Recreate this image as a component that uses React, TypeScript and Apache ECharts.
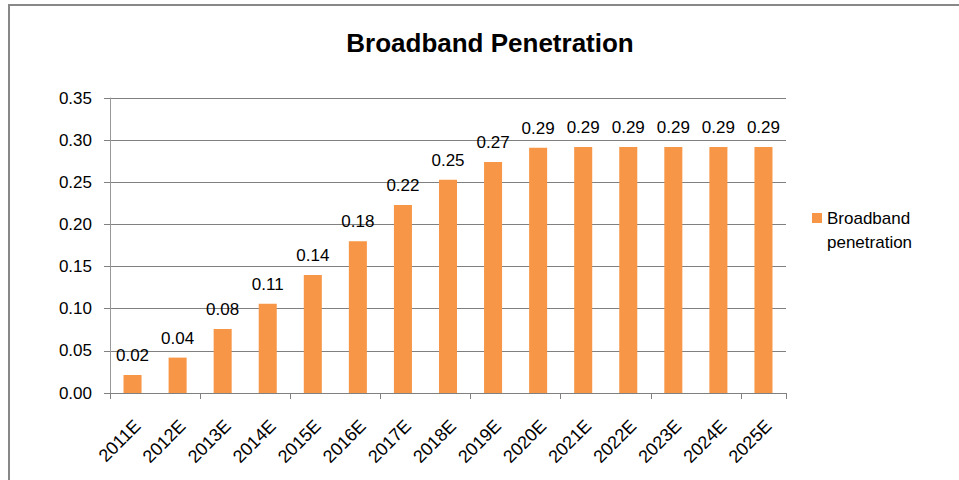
import React, { useEffect, useRef } from "react";
import * as echarts from "echarts";

const categories = ["2011E","2012E","2013E","2014E","2015E","2016E","2017E","2018E","2019E","2020E","2021E","2022E","2023E","2024E","2025E"];
const penetration = [0.0214, 0.042, 0.076, 0.106, 0.14, 0.18, 0.223, 0.253, 0.274, 0.291, 0.292, 0.292, 0.292, 0.292, 0.292];
const seriesName = "Broadband penetration";
const titleText = "Broadband Penetration";

const FONT = "'Liberation Sans', Arial, sans-serif";

export default function App() {
  const ref = useRef<HTMLDivElement>(null);
  useEffect(() => {
    if (!ref.current) return;
    const chart = echarts.init(ref.current, undefined, { renderer: "svg" });
    chart.setOption({
      animation: false,
      backgroundColor: "#ffffff",
      textStyle: { fontFamily: FONT },
      title: {
        text: titleText,
        left: 490,
        top: 30,
        padding: 0,
        textAlign: "center",
        textStyle: { fontFamily: FONT, fontSize: 26, fontWeight: "bold", color: "#000" },
      },
      legend: {
        left: 812,
        top: 206,
        padding: 0,
        icon: "path://M0 0H10V10H0Z M0 34H10",
        itemWidth: 10,
        itemHeight: 34,
        itemGap: 6,
        textStyle: {
          fontFamily: FONT,
          fontSize: 17,
          color: "#000",
          width: 100,
          overflow: "break",
          lineHeight: 24,
        },
        data: [seriesName],
      },
      graphic: [
        {
          type: "rect",
          shape: { x: 9, y: 5, width: 1200, height: 1200 },
          style: { fill: "none", stroke: "#888", lineWidth: 2 },
          silent: true,
        },
      ],
      grid: [
        { left: 110, top: 98, width: 676, height: 295 },
        { left: 115, top: 98, width: 676, height: 295 },
      ],
      xAxis: [
        {
          type: "category",
          gridIndex: 0,
          data: categories,
          axisLine: { lineStyle: { color: "#808080", width: 1 } },
          axisTick: { show: true, length: 6, lineStyle: { color: "#808080" } },
          axisLabel: { show: false },
        },
        {
          type: "category",
          gridIndex: 1,
          data: categories,
          axisLine: { show: false },
          axisTick: { show: false },
          axisLabel: { interval: 0, rotate: 45, margin: 30, fontSize: 18, color: "#000", fontFamily: FONT },
        },
      ],
      yAxis: [
        {
          type: "value",
          gridIndex: 0,
          min: 0,
          max: 0.35,
          interval: 0.05,
          axisLine: { show: true, lineStyle: { color: "#999" } },
          axisTick: { show: true, length: 6, lineStyle: { color: "#808080" } },
          splitLine: { show: true, lineStyle: { color: "#808080", width: 1 } },
          axisLabel: {
            margin: 18,
            fontSize: 17,
            color: "#000",
            fontFamily: FONT,
            formatter: (v: number) => v.toFixed(2),
          },
        },
        { type: "value", gridIndex: 1, min: 0, max: 0.35, show: false },
      ],
      series: [
        {
          name: seriesName,
          type: "bar",
          xAxisIndex: 0,
          yAxisIndex: 0,
          data: penetration,
          barWidth: "40%",
          itemStyle: { color: "#F79646" },
          label: {
            show: true,
            position: "top",
            distance: 11,
            fontSize: 17,
            color: "#000",
            fontFamily: FONT,
            formatter: (p: any) => Number(p.value).toFixed(2),
          },
        },
      ],
    });
    return () => chart.dispose();
  }, []);
  return <div ref={ref} style={{ position: "absolute", left: 0, top: 0, width: 959, height: 480 }} />;
}
